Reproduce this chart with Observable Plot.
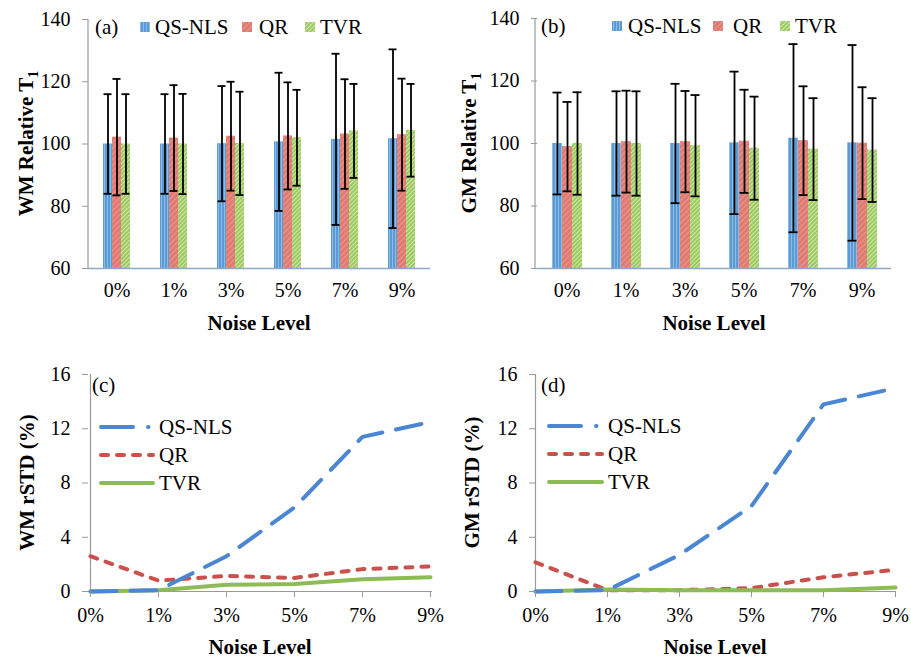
<!DOCTYPE html>
<html><head><meta charset="utf-8">
<script src="https://cdn.jsdelivr.net/npm/d3@7"></script>
<script src="https://cdn.jsdelivr.net/npm/@observablehq/plot@0.6"></script>
<style>
body{margin:0;background:#fff;}
#wrap{position:relative;width:911px;height:659px;overflow:hidden;}
.panel{position:absolute;}
</style></head><body>
<svg width="0" height="0" style="position:absolute">
<defs>
<pattern id="pQS" patternUnits="userSpaceOnUse" width="3" height="4"><rect width="3" height="4" fill="#5b9bd5"/><rect x="2" width="1" height="4" fill="#8cbbe6"/></pattern>
<pattern id="pQR" patternUnits="userSpaceOnUse" width="4" height="4" patternTransform="rotate(45)"><rect width="4" height="4" fill="#df7b72"/><rect width="1" height="4" fill="#e9978f"/></pattern>
<pattern id="pTVR" patternUnits="userSpaceOnUse" width="3" height="3" patternTransform="rotate(45)"><rect width="3" height="3" fill="#9cca60"/><rect width="1" height="3" fill="#cfe7ab"/></pattern>
</defs></svg>
<div id="wrap"></div>
<script>
const FONT = '"Liberation Serif","Times New Roman",serif';

// ---- Data ----
const noise = ["0%", "1%", "3%", "5%", "7%", "9%"];
const methods = ["QS-NLS", "QR", "TVR"];

// (a) WM relative T1 (mean and SD)
const wmMeanQS  = [100, 100, 100.1, 100.7, 101.5, 101.7];
const wmSdQS    = [16, 16, 18.5, 22.2, 27.5, 28.7];
const wmMeanQR  = [102.2, 101.9, 102.5, 102.6, 103.2, 103];
const wmSdQR    = [18.7, 17, 17.5, 17.2, 17.6, 18];
const wmMeanTVR = [100, 100, 100.2, 102, 104.2, 104.4];
const wmSdTVR   = [16, 16.1, 16.6, 15.4, 15.1, 14.9];

// (b) GM relative T1 (mean and SD)
const gmMeanQS  = [100, 100, 100, 100.2, 101.7, 100.2];
const gmSdQS    = [16.3, 16.7, 19.1, 22.8, 30.1, 31.3];
const gmMeanQR  = [99, 100.6, 100.6, 100.7, 100.9, 100.1];
const gmSdQR    = [14.3, 16.3, 16.2, 16.5, 17.4, 17.9];
const gmMeanTVR = [100, 100, 99.3, 98.5, 98.2, 97.9];
const gmSdTVR   = [16.4, 16.7, 16.2, 16.5, 16.3, 16.6];

// (c) WM rSTD (%)
const wmStdQS  = [0, 0.1, 2.6, 6.2, 11.4, 12.5];
const wmStdQR  = [2.6, 0.8, 1.15, 1.0, 1.65, 1.85];
const wmStdTVR = [0, 0.1, 0.5, 0.55, 0.9, 1.05];

// (d) GM rSTD (%)
const gmStdQS  = [0, 0.1, 2.7, 6.3, 13.8, 15.0];
const gmStdQR  = [2.15, 0.1, 0.1, 0.25, 1.05, 1.6];
const gmStdTVR = [0, 0.15, 0.1, 0.1, 0.1, 0.3];

const barTicks = [60, 80, 100, 120, 140];
const stdTicks = [0, 4, 8, 12, 16];

// ---- Styles ----
const barFill = {"QS-NLS": "url(#pQS)", "QR": "url(#pQR)", "TVR": "url(#pTVR)"};
const lineStyle = {
  "QS-NLS": {stroke: "#4a86d4", dash: "26,14"},
  "QR": {stroke: "#c9504b", dash: "7,9"},
  "TVR": {stroke: "#8dbb55", dash: null}
};
const drawOrder = ["QR", "TVR", "QS-NLS"];

function barRows(means, sds) {
  const rows = [];
  methods.forEach((m, j) => noise.forEach((n, i) => {
    rows.push({noise: n, method: m, mean: means[j][i], lo: means[j][i] - sds[j][i], hi: means[j][i] + sds[j][i]});
  }));
  return rows;
}
function lineRows(vals) {
  const rows = [];
  methods.forEach((m, j) => noise.forEach((n, i) => rows.push({noise: n, method: m, value: vals[j][i]})));
  return rows;
}

const wrap = document.getElementById("wrap");

function addYLabel(s, x, y, main, sub) {
  const t = s.append("text")
    .attr("transform", `translate(${x},${y}) rotate(-90)`)
    .attr("text-anchor", "middle").attr("dy", "0.35em")
    .attr("font-family", FONT).attr("font-weight", "bold").attr("font-size", 21).attr("fill", "#000");
  t.append("tspan").text(main);
  if (sub) t.append("tspan").attr("font-size", 14).attr("dy", "0.3em").text(sub);
}
function addText(s, x, y, txt, opts = {}) {
  return s.append("text").attr("x", x).attr("y", y).attr("dy", "0.35em")
    .attr("text-anchor", opts.anchor || "start")
    .attr("font-family", FONT).attr("font-size", opts.size || 21)
    .attr("font-weight", opts.bold ? "bold" : "normal").attr("fill", "#000").text(txt);
}

function barPanel(cfg) {
  const rows = barRows(cfg.means, cfg.sds);
  const y0 = barTicks[0];
  const svg = Plot.plot({
    width: cfg.width, height: cfg.height,
    marginLeft: cfg.mL, marginRight: cfg.mR, marginTop: cfg.mT, marginBottom: cfg.mB,
    style: {fontFamily: FONT, fontSize: "20px", background: "transparent", overflow: "visible", color: "#000"},
    fx: {domain: noise, padding: 0, label: null},
    x: {domain: methods, paddingInner: 0, paddingOuter: 1.45, axis: null},
    y: {domain: [barTicks[0], barTicks[barTicks.length - 1]], label: null},
    marks: [
      ...methods.map(m => Plot.barY(rows.filter(d => d.method === m),
        {fx: "noise", x: "method", y1: y0, y2: "mean", fill: barFill[m]})),
      Plot.ruleY([y0], {stroke: "#8ea9c4", strokeWidth: 1.5}),
      Plot.ruleX(rows, {fx: "noise", x: "method", y1: "lo", y2: "hi", stroke: "#000", strokeWidth: 1.8}),
      Plot.tickY(rows, {fx: "noise", x: "method", y: "lo", stroke: "#000", strokeWidth: 1.8, insetLeft: 0.5, insetRight: 0.5}),
      Plot.tickY(rows, {fx: "noise", x: "method", y: "hi", stroke: "#000", strokeWidth: 1.8, insetLeft: 0.5, insetRight: 0.5}),
      Plot.axisFx({anchor: "bottom", tickSize: 0, tickPadding: 14, label: null}),
      Plot.axisY({ticks: barTicks, tickSize: 6, tickPadding: 12, stroke: "#999", label: null})
    ]
  });
  const s = d3.select(svg);
  s.append("line").attr("x1", cfg.mL).attr("x2", cfg.mL).attr("y1", cfg.mT).attr("y2", cfg.height - cfg.mB)
    .attr("stroke", "#999").attr("stroke-width", 1.2);
  addYLabel(s, cfg.ylx, cfg.mT + (cfg.height - cfg.mT - cfg.mB) / 2, cfg.ylabel, "1");
  const cx = cfg.mL + (cfg.width - cfg.mL - cfg.mR) / 2;
  addText(s, cx, cfg.height - cfg.mB + 55, "Noise Level", {anchor: "middle", bold: true});
  addText(s, cfg.tagX, cfg.mT + 8, cfg.tag);
  cfg.legend.forEach((L, j) => {
    s.append("rect").attr("x", L[0]).attr("y", cfg.mT + 3).attr("width", 10).attr("height", 10).attr("fill", barFill[methods[j]]);
    addText(s, L[1], cfg.mT + 8, methods[j]);
  });
  svg.classList.add("panel");
  svg.style.left = cfg.left + "px";
  svg.style.top = cfg.top + "px";
  wrap.appendChild(svg);
}

function linePanel(cfg) {
  const rows = lineRows(cfg.vals);
  const svg = Plot.plot({
    width: cfg.width, height: cfg.height,
    marginLeft: cfg.mL, marginRight: cfg.mR, marginTop: cfg.mT, marginBottom: cfg.mB,
    style: {fontFamily: FONT, fontSize: "20px", background: "transparent", overflow: "visible", color: "#000"},
    x: {type: "point", domain: noise, padding: 0, label: null},
    y: {domain: [stdTicks[0], stdTicks[stdTicks.length - 1]], label: null},
    marks: [
      Plot.ruleX([noise[0]], {stroke: "#999", strokeWidth: 1.2}),
      Plot.ruleY([stdTicks[0]], {stroke: "#999", strokeWidth: 1.2}),
      ...drawOrder.map(m => Plot.lineY(rows.filter(d => d.method === m), {
        x: "noise", y: "value", stroke: lineStyle[m].stroke, strokeWidth: 4,
        strokeDasharray: lineStyle[m].dash, strokeLinecap: "round", strokeLinejoin: "round"
      })),
      Plot.axisX({tickSize: 6, tickPadding: 10, stroke: "#999", label: null}),
      Plot.axisY({ticks: stdTicks, tickSize: 6, tickPadding: 12, stroke: "#999", label: null})
    ]
  });
  const s = d3.select(svg);
  addYLabel(s, cfg.ylx, cfg.mT + (cfg.height - cfg.mT - cfg.mB) / 2, cfg.ylabel, null);
  const cx = cfg.mL + (cfg.width - cfg.mL - cfg.mR) / 2;
  addText(s, cx, cfg.height - cfg.mB + 56, "Noise Level", {anchor: "middle", bold: true});
  addText(s, cfg.tagX, cfg.mT + 11, cfg.tag);
  methods.forEach((m, j) => {
    const yy = cfg.legY + j * 28;
    s.append("line").attr("x1", cfg.legX0).attr("x2", cfg.legX1).attr("y1", yy).attr("y2", yy)
      .attr("stroke", lineStyle[m].stroke).attr("stroke-width", 4).attr("stroke-linecap", "round")
      .attr("stroke-dasharray", m === "QS-NLS" ? "32,15,0.5,40" : lineStyle[m].dash);
    addText(s, cfg.legX1 + 6, yy, m);
  });
  svg.classList.add("panel");
  svg.style.left = cfg.left + "px";
  svg.style.top = cfg.top + "px";
  wrap.appendChild(svg);
}

barPanel({left: 0, top: 0, width: 455, height: 340, mL: 88, mR: 25, mT: 19, mB: 72,
  means: [wmMeanQS, wmMeanQR, wmMeanTVR], sds: [wmSdQS, wmSdQR, wmSdTVR],
  ylabel: "WM Relative T", ylx: 26, tag: "(a)", tagX: 95,
  legend: [[140, 155], [242, 259], [305, 320]]});

barPanel({left: 455, top: 0, width: 456, height: 340, mL: 80, mR: 18, mT: 18, mB: 72,
  means: [gmMeanQS, gmMeanQR, gmMeanTVR], sds: [gmSdQS, gmSdQR, gmSdTVR],
  ylabel: "GM Relative T", ylx: 14, tag: "(b)", tagX: 86,
  legend: [[157, 173], [258, 278], [325, 340]]});

linePanel({left: 0, top: 340, width: 455, height: 319, mL: 88, mR: 23, mT: 34, mB: 68,
  vals: [wmStdQS, wmStdQR, wmStdTVR], ylabel: "WM rSTD (%)", ylx: 27, tag: "(c)", tagX: 92,
  legX0: 101, legX1: 153, legY: 87});

linePanel({left: 455, top: 340, width: 456, height: 319, mL: 80, mR: 16, mT: 34, mB: 68,
  vals: [gmStdQS, gmStdQR, gmStdTVR], ylabel: "GM rSTD (%)", ylx: 17, tag: "(d)", tagX: 86,
  legX0: 94, legX1: 147, legY: 86});
</script>
</body></html>
